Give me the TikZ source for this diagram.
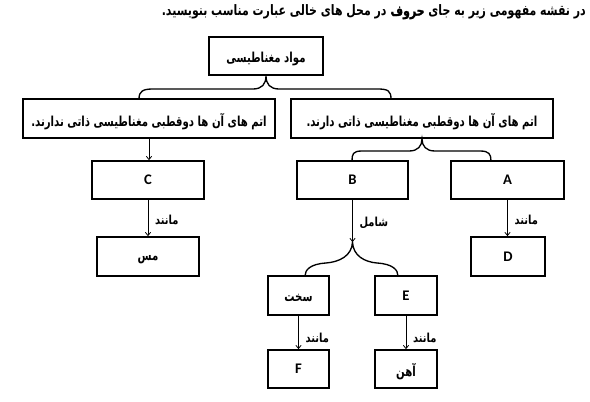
\documentclass[tikz,border=0pt]{standalone}
\usepackage{fontspec}
\usepackage{graphicx}
\usetikzlibrary{arrows.meta}
\TeXXeTstate=1
\setmainfont{Carlito}
\newfontfamily\arabicfont[Script=Arabic]{DejaVu Sans}
\newfontfamily\arabicheavy[Script=Arabic,FakeBold=1.5]{DejaVu Sans Bold}
\newcommand\artxt[1]{\raisebox{-2.2pt}[\height][\depth]{\scalebox{0.74}[1]{\arabicfont\bfseries\fontsize{10.3}{12}\selectfont\beginR #1\endR}}}
\newcommand\lbltxt[1]{\raisebox{-1.6pt}[\height][\depth]{\scalebox{0.8}[1]{\arabicfont\bfseries\fontsize{9.3}{11}\selectfont\beginR #1\endR}}}
\newcommand\mybox[6]{\node[box, minimum width={(#4-#2)*0.75pt}, minimum height={(#5-#3)*0.75pt}] (#1) at ({(#2+#4)/2},{(#3+#5)/2}) {#6};}
\begin{document}
\begin{tikzpicture}[x=0.75pt,y=-0.75pt,
  box/.style={draw, line width=1.3pt, inner sep=0pt, font=\bfseries\fontsize{11}{12}\selectfont},
  arr/.style={line width=0.6pt, -{Straight Barb[length=2.4pt,width=4pt]}},
  bracestyle/.style={line width=1pt},
  lbl/.style={inner sep=0pt, anchor=west, xshift=5pt}]
\useasboundingbox (0,0) rectangle (590,401);
\fill[white] (0,0) rectangle (590,401);
\node[anchor=east, inner sep=0pt] (title) at (586,12)
  {\scalebox{0.76}[1]{\arabicfont\bfseries\fontsize{10.8}{12}\selectfont\beginR در نقشه مفهومی زیر به جای {\arabicheavy حروف} در محل های خالی عبارت مناسب بنویسید.\endR}};
\mybox{top}{209}{37}{323}{75}{\artxt{مواد مغناطیسی}}
\mybox{L}{23}{99}{275}{138}{\artxt{اتم های آن ها دوقطبی مغناطیسی ذاتی ندارند.}}
\mybox{R}{291}{99}{553}{138}{\artxt{اتم های آن ها دوقطبی مغناطیسی ذاتی دارند.}}
\mybox{C}{92}{161}{204}{199}{C}
\mybox{mes}{97}{237}{199}{276}{\artxt{مس}}
\mybox{B}{297}{161}{408}{199}{B}
\mybox{A}{451}{161}{564}{199}{A}
\mybox{D}{471}{237}{545}{276}{D}
\mybox{sakht}{268}{276}{329}{315}{\artxt{سخت}}
\mybox{E}{375}{276}{437}{315}{E}
\mybox{F}{268}{350}{329}{388}{F}
\mybox{ahan}{375}{350}{437}{388}{\artxt{آهن}}
% brace tips
\coordinate (t1) at (139,99);
\coordinate (t2) at (391,99);
\coordinate (t3) at (352,161);
\coordinate (t4) at (491,161);
\coordinate (t5) at (305,276);
\coordinate (t6) at (398,276);
\coordinate (cusp3) at (352.5,242);
% braces
\draw[bracestyle] (t1) .. controls (139,91) and (143,89) .. (153,89) -- (253,89) .. controls (262,89) and (266,84) .. (top.south)
  .. controls (266,84) and (270,89) .. (279,89) -- (378,89) .. controls (388,89) and (391,91) .. (t2);
\draw[bracestyle] (t3) .. controls (352,154) and (353,151) .. (362,151) -- (409,151) .. controls (418,151) and (422,146) .. (R.south)
  .. controls (422,146) and (426,151) .. (435,151) -- (480,151) .. controls (489,151) and (491,154) .. (t4);
\draw[bracestyle] (t5) .. controls (305,270) and (310,264) .. (326,263) .. controls (339,262) and (352,256) .. (cusp3)
  .. controls (353,256) and (365,262) .. (377,263) .. controls (393,264) and (398,270) .. (t6);
% arrows
\draw[arr] (L.south) -- (L.south |- C.north);
\draw[arr] (C.south) -- node[lbl] {\lbltxt{مانند}} (C.south |- mes.north);
\draw[arr] (B.south) -- node[lbl] {\lbltxt{شامل}} (cusp3);
\draw[arr] (A.south) -- node[lbl] {\lbltxt{مانند}} (A.south |- D.north);
\draw[arr] (sakht.south) -- node[lbl, pos=0.6] {\lbltxt{مانند}} (sakht.south |- F.north);
\draw[arr] (E.south) -- node[lbl, pos=0.6] {\lbltxt{مانند}} (E.south |- ahan.north);
\end{tikzpicture}
\end{document}
